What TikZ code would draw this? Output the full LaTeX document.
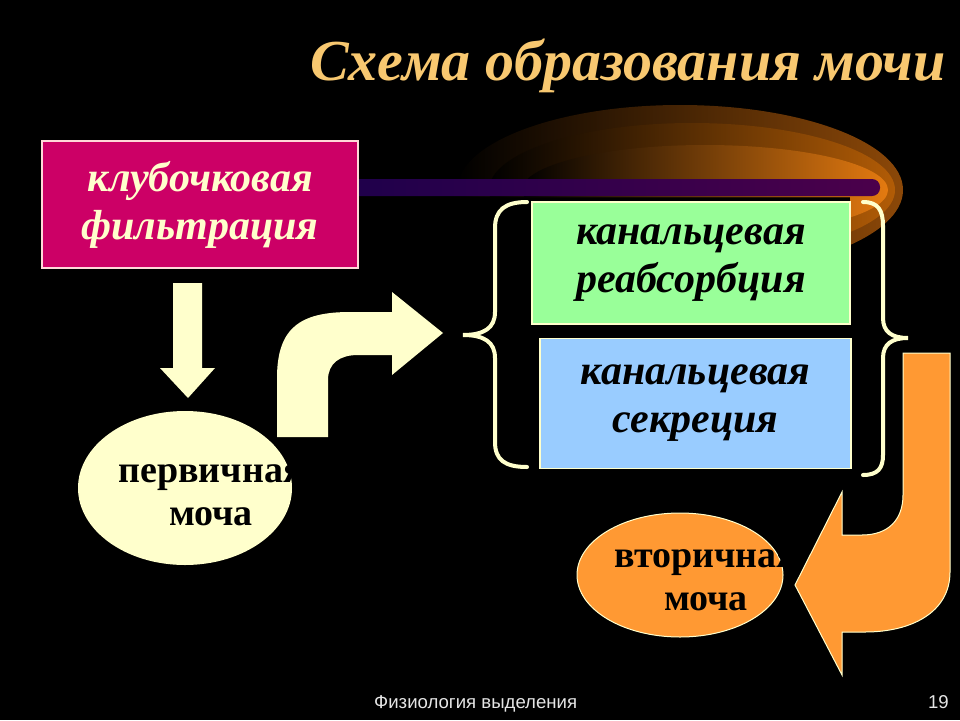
\documentclass[tikz,border=0pt]{standalone}
\usepackage{fontspec}
\setmainfont{Liberation Serif}
\setsansfont{Liberation Sans}
\usepackage{tikz}
\usetikzlibrary{shapes,arrows}
\usetikzlibrary{arrows,calc,positioning}
\definecolor{titleclr}{RGB}{248,200,112}
\definecolor{cream}{RGB}{255,255,204}
\definecolor{magentabox}{RGB}{204,0,102}
\definecolor{greenbox}{RGB}{153,255,153}
\definecolor{bluebox}{RGB}{153,204,255}
\definecolor{orangeclr}{RGB}{255,153,51}
\definecolor{barL}{RGB}{30,0,75}
\definecolor{barR}{RGB}{75,0,75}
\definecolor{glowA}{RGB}{140,72,8}
\definecolor{glowB}{RGB}{178,92,6}
\definecolor{glowC}{RGB}{228,122,16}
\newcommand{\blkfont}{\fontsize{42}{48}\selectfont\bfseries\itshape}
\newcommand{\ellfont}{\fontsize{38}{43}\selectfont\bfseries}
\tikzset{
        block/.style = {draw, rectangle, line width=1.5pt,
            align=center, font=\blkfont, inner sep=0pt,
            execute at begin node={\rule{0pt}{36pt}}},
        oval/.style = {ellipse, inner sep=0pt},
        ovaltext/.style = {align=center, font=\ellfont, text=black},
        bigarrow/.style = {fill=cream},
        brace/.style = {draw=cream, line width=4pt, line cap=round},
    }

\begin{document}
\begin{tikzpicture}[x=1pt,y=-1pt]
        \fill[black] (0,0) rectangle (960,720);
        \node[font=\fontsize{58}{60}\selectfont\bfseries\itshape, text=titleclr,
            anchor=base west, inner sep=0pt] (title) at (310,80) {Схема образования мочи};

        % glow behind the bar
        \begin{scope}
            \clip (400,90) rectangle (960,197) (850,190) rectangle (960,260);
            \shade[left color=black, middle color=glowA!10!black, right color=glowA]
                (680,190) ellipse [x radius=223, y radius=85];
            \shade[left color=black, middle color=glowB!10!black, right color=glowB]
                (692,190) ellipse [x radius=203, y radius=67];
            \shade[left color=black, middle color=glowC!12!black, right color=glowC]
                (705,190) ellipse [x radius=183, y radius=45];
        \end{scope}
        \shade[left color=barL, right color=barR, rounded corners=8pt] (340,179) rectangle (880,196);

        \node[block, fill=magentabox, draw=pink!60!white, text=cream,
            minimum width=316pt, minimum height=127pt] (filt) at (200,204.5) {клубочковая\\фильтрация};
        \node[block, fill=greenbox, draw=cream,
            minimum width=318pt, minimum height=122pt] (reabs) at (691,263) {канальцевая\\реабсорбция};
        \node[block, fill=bluebox, draw=cream, below=13pt of reabs, xshift=4.5pt,
            minimum width=311pt, minimum height=130pt] (secr) {канальцевая\\секреция};

        % braces
        \draw[brace] (527,202) .. controls (505,202) and (495,210) .. (495,228) -- (495,312)
            .. controls (495,328) and (484,335) .. (463,335)
            .. controls (484,335) and (495,342) .. (495,358) -- (495,442)
            .. controls (495,460) and (505,467) .. (527,467);
        \draw[brace] (863,202) .. controls (878,202) and (883,210) .. (883,226) -- (883,318)
            .. controls (883,332) and (892,338) .. (908,338)
            .. controls (892,338) and (883,344) .. (883,358) -- (883,455)
            .. controls (883,468) and (878,475) .. (863,475);

        % block arrows
        \fill[bigarrow] (173,283) -- (202,283) -- (202,368) -- (215,368) -- (188,398)
            -- (160,368) -- (173,368) -- cycle;
        \fill[bigarrow] (277,437) -- (277,378) .. controls (277,328) and (300,312) .. (350,312)
            -- (392,312) -- (392,292) -- (443,333) -- (392,375) -- (392,355) -- (358,355)
            .. controls (340,355) and (328,363) .. (328,380) -- (328,437) -- cycle;
        \filldraw[fill=orangeclr, draw=cream, line width=1pt] (903,353) -- (950,353) -- (950,572)
            .. controls (950,612) and (912,632) .. (865,632) -- (842,632) -- (842,675)
            -- (795,585) -- (842,492) -- (842,535) -- (862,535)
            .. controls (888,535) and (903,520) .. (903,495) -- cycle;

        \node[oval, fill=cream, minimum width=214pt, minimum height=154pt] (prim) at (185,488) {};
        \node[ovaltext] (primtxt) at ([xshift=26pt, yshift=-7pt]prim.center) {первичная\\моча};
        \node[oval, fill=orangeclr, draw=cream, line width=1pt,
            minimum width=206pt, minimum height=124pt] (sec) at (680,575) {};
        \node[ovaltext] (sectxt) at ([xshift=26pt, yshift=-5pt]sec.center) {вторичная\\моча};

        \node[font=\sffamily\fontsize{18.6}{22}\selectfont, text=white!90!black,
            anchor=base west, inner sep=0pt] (foot) at (374,708) {Физиология выделения};
        \node[font=\sffamily\fontsize{18.6}{22}\selectfont, text=white!90!black,
            anchor=base east, inner sep=0pt] (pagenum) at (949,708) {19};
\end{tikzpicture}
\end{document}
